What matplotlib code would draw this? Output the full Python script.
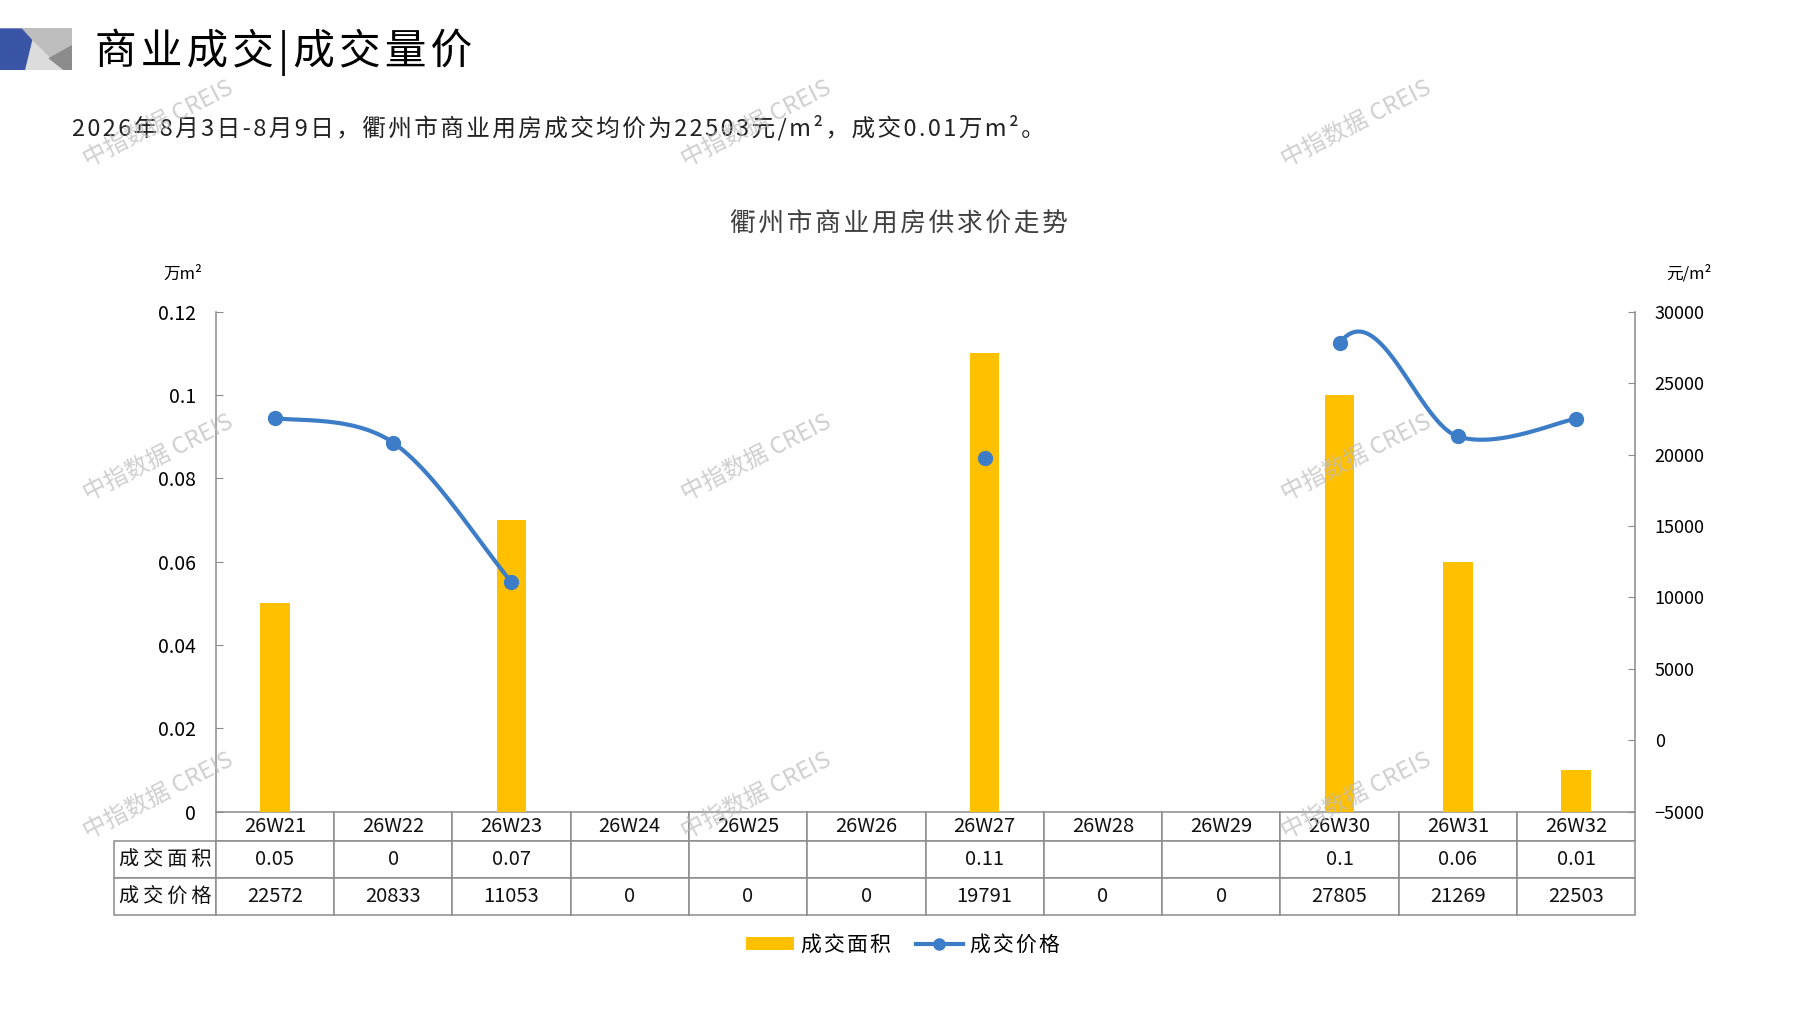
import numpy as np
import matplotlib
matplotlib.use("Agg")
import matplotlib.pyplot as plt
from matplotlib.patches import Polygon, Patch
from matplotlib.lines import Line2D

plt.rcParams['font.family'] = ['Noto Sans CJK SC', 'DejaVu Sans']

# data
weeks = ["26W21", "26W22", "26W23", "26W24", "26W25", "26W26",
         "26W27", "26W28", "26W29", "26W30", "26W31", "26W32"]
area = [0.05, 0, 0.07, None, None, None, 0.11, None, None, 0.1, 0.06, 0.01]   # 万m²
price = [22572, 20833, 11053, 0, 0, 0, 19791, 0, 0, 27805, 21269, 22503]     # 元/m²
row_labels = ["成交面积", "成交价格"]
series_names = ["成交面积", "成交价格"]

W, H = 1797, 1010
BAR_C = '#FFC000'
LINE_C = '#3D7DC8'
GRID_C = '#8C8C8C'


def fx(px):
    return px / W


def fy(py):
    return 1 - py / H


def spaced(s, n=1):
    # little extra tracking, the original uses a wide-set font
    return ('\u200a' * n).join(s)


fig = plt.figure(figsize=(W / 100, H / 100), dpi=100)

# ---- header block
logo = [
    ([(21.7, 28.3), (72, 28.3), (72, 70), (25, 70)], '#BEBEBE'),
    ([(32.3, 40), (25, 70), (63, 70)], '#DCDCDC'),
    ([(48.3, 58.3), (72, 45), (72, 70), (63.3, 70)], '#8C8C8C'),
    ([(0, 28.3), (21.7, 28.3), (32.3, 40), (25, 70), (0, 70)], '#3A55A6'),
]
for pts, c in logo:
    fig.add_artist(Polygon([(fx(a), fy(b)) for a, b in pts], closed=True,
                           transform=fig.transFigure, facecolor=c, edgecolor='none'))

fig.text(fx(95), fy(52), spaced("商业成交|成交量价"), fontsize=30, va='center', ha='left', color='black')
fig.text(fx(72), fy(128), spaced("2026年8月3日-8月9日，衢州市商业用房成交均价为22503元/m²，成交0.01万m²。"),
         fontsize=17, va='center', ha='left', color='#222222')
fig.text(fx(899), fy(225), spaced("衢州市商业用房供求价走势"), fontsize=18.5, va='center', ha='center',
         color='#404040')

# ---- chart
ax = fig.add_axes([fx(215.7), fy(811.7), (1635.3 - 215.7) / W, 500 / H])
ax2 = ax.twinx()
x = np.arange(len(weeks))

bx = [i for i, v in enumerate(area) if v]
ax.bar(bx, [area[i] for i in bx], width=0.25, color=BAR_C, zorder=2)
ax.set_xlim(-0.5, len(weeks) - 0.5)
ax.set_ylim(0, 0.12)
ax.set_yticks(np.arange(0, 0.121, 0.02))
ax.set_yticklabels(["0", "0.02", "0.04", "0.06", "0.08", "0.1", "0.12"])
ax.set_xticks([])

ax2.set_ylim(-5000, 30000)
ax2.set_yticks(np.arange(-5000, 30001, 5000))

for a in (ax, ax2):
    for s in a.spines.values():
        s.set_visible(False)
ax.spines['left'].set_visible(True)
ax2.spines['right'].set_visible(True)
ax.spines['left'].set_color(GRID_C)
ax2.spines['right'].set_color(GRID_C)
ax.spines['left'].set_linewidth(1.1)
ax2.spines['right'].set_linewidth(1.1)
ax.tick_params(axis='y', direction='in', length=5, color=GRID_C, labelsize=14, pad=14)
ax2.tick_params(axis='y', direction='in', length=5, color=GRID_C, labelsize=13, pad=14)

# smoothed price line (Excel-like bezier), gaps where nothing traded
p = np.array(price, dtype=float)
n = len(p)


def pt(i):
    i = min(max(i, 0), n - 1)
    return np.array([x[i], p[i]], dtype=float)


t = np.linspace(0, 1, 40)[:, None]
for i in range(n - 1):
    if p[i] > 0 and p[i + 1] > 0:
        p0, p1 = pt(i), pt(i + 1)
        c1 = p0 + (p1 - pt(i - 1)) / 6
        c2 = p1 - (pt(i + 2) - p0) / 6
        curve = ((1 - t) ** 3) * p0 + 3 * ((1 - t) ** 2) * t * c1 + 3 * (1 - t) * t ** 2 * c2 + t ** 3 * p1
        ax2.plot(curve[:, 0], curve[:, 1], color=LINE_C, lw=3, solid_capstyle='round', zorder=3)
nz = p > 0
ax2.plot(x[nz], p[nz], 'o', color=LINE_C, ms=10, zorder=4)

fig.text(fx(183), fy(274), "万m²", fontsize=12, ha='center', va='center')
fig.text(fx(1689), fy(274), "元/m²", fontsize=12, ha='center', va='center')

# ---- data table below the axis
area_txt = ["" if v is None else f"{v:g}" for v in area]
price_txt = [str(v) for v in price]
cells = [[spaced(row_labels[0], 2)] + area_txt, [spaced(row_labels[1], 2)] + price_txt]
total_w = 1635.3 - 114.3
tbl = ax.table(cellText=cells, colLabels=[""] + weeks, cellLoc='center',
               colWidths=[101.4 / total_w] + [118.3 / total_w] * len(weeks),
               bbox=[(114.3 - 215.7) / 1419.6, -103.3 / 500, total_w / 1419.6, 103.3 / 500])
tbl.auto_set_font_size(False)
tbl.set_fontsize(14.5)
for (r, c), cell in tbl.get_celld().items():
    cell.set_edgecolor(GRID_C)
    cell.set_linewidth(1.1)
    cell.set_height(29.3 if r == 0 else 37.5)
    cell.get_text().set_color('#111111')
tbl[0, 0].visible_edges = ''

# ---- legend
handles = [Patch(facecolor=BAR_C, edgecolor='none', label=spaced(series_names[0])),
           Line2D([], [], color=LINE_C, lw=3, marker='o', ms=8, label=spaced(series_names[1]))]
fig.legend(handles=handles, loc='center', bbox_to_anchor=(fx(903), fy(945)), ncol=2,
           frameon=False, fontsize=15, handlelength=2.3, handleheight=0.55,
           handletextpad=0.3, columnspacing=1.2)

# ---- watermarks
for wy in (124, 458, 796):
    for wx in (158, 756, 1356):
        fig.text(fx(wx), fy(wy), "中指数据 CREIS", fontsize=17, rotation=27,
                 ha='center', va='center', color='#BBBBBB', alpha=0.7, zorder=10)

fig.savefig("out.png", dpi=100)
